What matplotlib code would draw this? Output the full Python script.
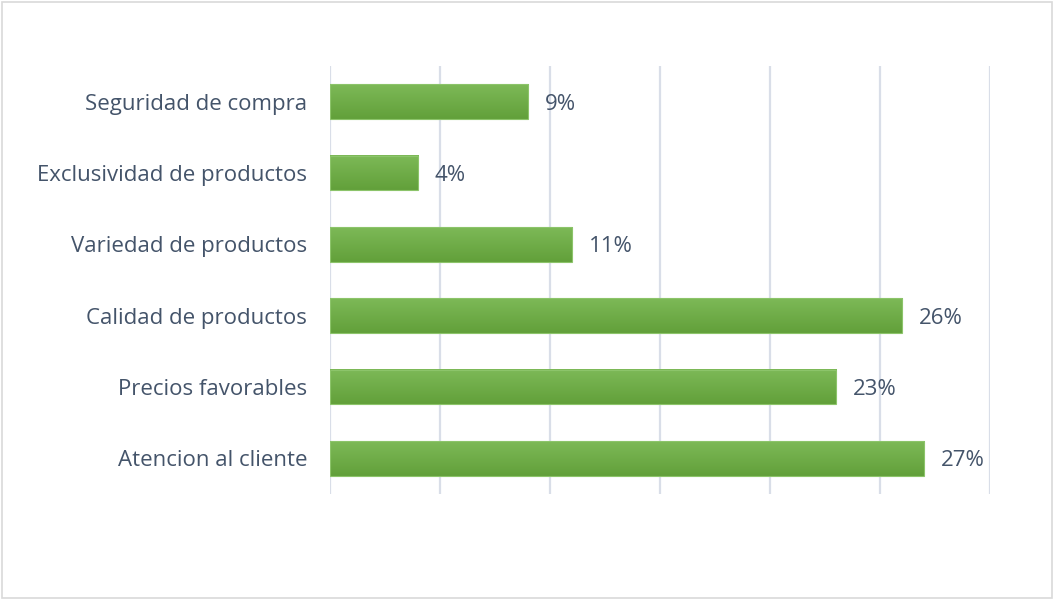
import matplotlib.pyplot as plt
import numpy as np
from matplotlib.colors import LinearSegmentedColormap
from matplotlib.patches import Rectangle

# categories from bottom to top
categories = ['Atencion al cliente', 'Precios favorables', 'Calidad de productos',
              'Variedad de productos', 'Exclusividad de productos', 'Seguridad de compra']
values = [27, 23, 26, 11, 4, 9]

text_color = '#44546A'
grid_color = '#D9DEE8'
plt.rcParams['font.family'] = ['Open Sans', 'DejaVu Sans']

fig = plt.figure(figsize=(10.54, 6), dpi=100)
ax = fig.add_axes([0.3131, 0.1767, 0.6262, 0.7133])

# vertical green gradient for each bar
green = LinearSegmentedColormap.from_list('green', ['#62A03A', '#7DB957'])
grad = np.linspace(0, 1, 64).reshape(-1, 1)
bar_h = 0.49
y = np.arange(len(categories))

for yi, v in zip(y, values):
    ax.imshow(grad, cmap=green, origin='lower', aspect='auto',
              extent=(0, v, yi - bar_h / 2, yi + bar_h / 2), zorder=2)
    ax.add_patch(Rectangle((0, yi - bar_h / 2), v, bar_h, fill=False,
                           edgecolor='#8CC46A', linewidth=0.8, zorder=3))
    ax.text(v + 0.75, yi, f'{v}%', va='center_baseline', ha='left',
            fontsize=16, color=text_color)

ax.set_xlim(0, 30)
ax.set_ylim(-0.5, len(categories) - 0.5)
ax.set_xticks(np.arange(0, 31, 5))
ax.set_xticklabels([])
ax.set_yticks(y)
ax.set_yticklabels(categories, fontsize=16, color=text_color)
ax.tick_params(length=0, pad=16.5)
ax.grid(axis='x', color=grid_color, linewidth=1.6, zorder=0)
ax.set_axisbelow(True)
for s in ax.spines.values():
    s.set_visible(False)

# light outer frame around the chart area
fig.patches.append(Rectangle((0.002, 0.004), 0.996, 0.992, transform=fig.transFigure,
                             fill=False, edgecolor='#D9D9D9', linewidth=1.2))

fig.savefig('out.png', dpi=100)
